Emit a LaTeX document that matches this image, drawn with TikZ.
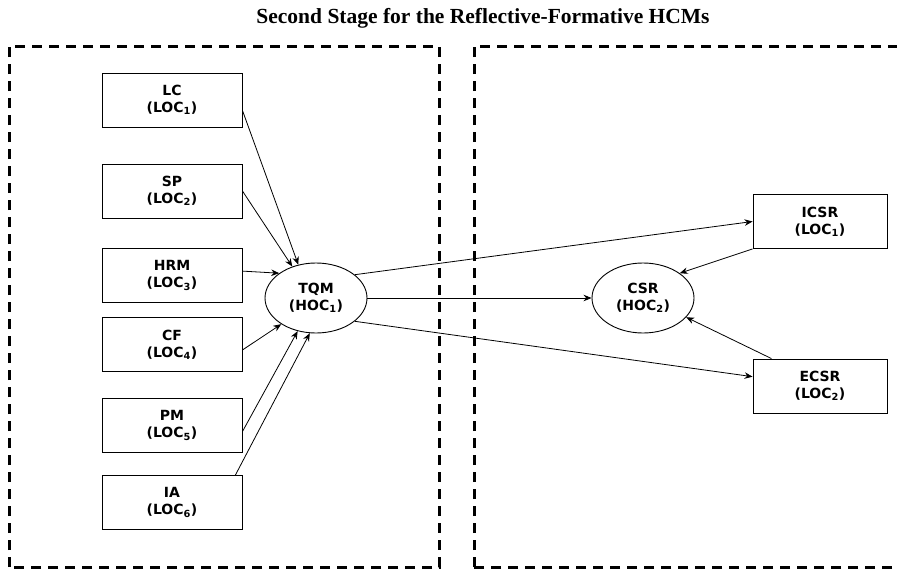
\documentclass[tikz,border=0pt]{standalone}
\usepackage{fontspec}
\setmainfont{DejaVu Sans}
\newfontfamily\titlefont{Liberation Serif}
\usetikzlibrary{arrows.meta,calc,shapes.geometric}
\begin{document}
\begin{tikzpicture}[x=1pt,y=-1pt,
  construct/.style={draw,line width=0.9pt,minimum width=140pt,minimum height=54pt,
    align=center,font=\fontsize{14}{17}\selectfont\bfseries,inner sep=0pt},
  latent/.style={draw,ellipse,line width=0.9pt,minimum width=102pt,minimum height=70pt,
    align=center,font=\fontsize{14}{17}\selectfont\bfseries,inner sep=0pt},
  frame/.style={line width=3pt,dash pattern=on 10pt off 7pt},
  path/.style={line width=0.8pt,-{Stealth[length=8pt,width=6.5pt]}}]
\useasboundingbox (0,0) rectangle (897,570);
\begin{scope}
\clip (0,0) rectangle (897,570);
% stage frames
\draw[frame] (9,567) -- (9,46) -- (439,46) -- (439,567) -- cycle;
\draw[frame] (474,567) -- (474,46) -- (910,46) -- (910,567) -- cycle;
\end{scope}
\node[font=\titlefont\fontsize{21.5}{24}\selectfont\bfseries] (title) at (483,18)
  {Second Stage for the Reflective-Formative HCMs};
% lower-order constructs of TQM
\node[construct] (lc)  at (172,100)   {LC\\(LOC\textsubscript{1})};
\node[construct] (sp)  at (172,191)   {SP\\(LOC\textsubscript{2})};
\node[construct] (hrm) at (172,275.5) {HRM\\(LOC\textsubscript{3})};
\node[construct] (cf)  at (172,344.5) {CF\\(LOC\textsubscript{4})};
\node[construct] (pm)  at (172,425.5) {PM\\(LOC\textsubscript{5})};
\node[construct] (ia)  at (172,502.5) {IA\\(LOC\textsubscript{6})};
% higher-order constructs
\node[latent] (tqm) at (316,298) {TQM\\(HOC\textsubscript{1})};
\node[latent] (csr) at (643,298) {CSR\\(HOC\textsubscript{2})};
% lower-order constructs of CSR
\node[construct,minimum width=134pt] (icsr) at (820,221.5) {ICSR\\(LOC\textsubscript{1})};
\node[construct,minimum width=134pt] (ecsr) at (820,386)   {ECSR\\(LOC\textsubscript{2})};
% formative paths into TQM
\draw[path] ($(lc.north east)!0.69!(lc.south east)$) -- (tqm.118);
\draw[path] (sp.east) -- (tqm.127);
\draw[path] ($(hrm.north east)!0.42!(hrm.south east)$) -- (tqm.146);
\draw[path] ($(cf.north east)!0.6!(cf.south east)$) -- (tqm.217);
\draw[path] ($(pm.north east)!0.61!(pm.south east)$) -- (tqm.241);
\draw[path] ($(ia.north west)!0.95!(ia.north east)$) -- (tqm.260);
% structural paths
\draw[path] (tqm.31) -- (icsr.west);
\draw[path] (tqm.east) -- (csr.west);
\draw[path] (tqm.-31) -- ($(ecsr.north west)!0.33!(ecsr.south west)$);
% formative paths into CSR
\draw[path] (icsr.south west) -- (csr.34);
\draw[path] ($(ecsr.north west)!0.14!(ecsr.north east)$) -- (csr.-24);
\end{tikzpicture}
\end{document}
